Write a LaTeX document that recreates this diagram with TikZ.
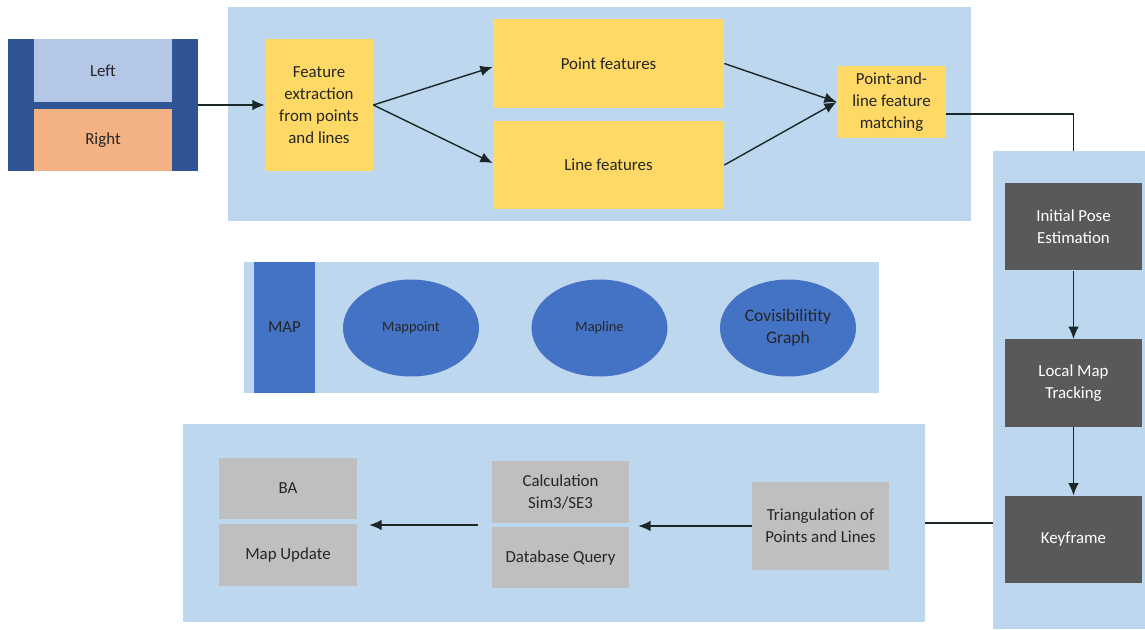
\documentclass[tikz,border=0pt]{standalone}
\usepackage{fontspec}
\setmainfont{Carlito}
\usepackage{xcolor}
\usetikzlibrary{calc,shapes,arrows.meta}

\definecolor{bgblue}{HTML}{BDD7EE}
\definecolor{featyellow}{HTML}{FFD966}
\definecolor{stereoblue}{HTML}{2F5597}
\definecolor{leftblue}{HTML}{B4C7E7}
\definecolor{rightorange}{HTML}{F4B183}
\definecolor{mapblue}{HTML}{4472C4}
\definecolor{darkgray}{HTML}{595959}
\definecolor{lightgray}{HTML}{BFBFBF}
\definecolor{txt}{HTML}{262626}
\definecolor{arrcol}{HTML}{1B2626}

\begin{document}
\begin{tikzpicture}[x=0.02cm,y=-0.02cm,
    font=\fontsize{9.6}{12.4}\selectfont,
    panel/.style={rectangle,fill=bgblue,inner sep=0pt},
    box/.style={rectangle,inner sep=0pt,align=center,text=txt},
    yellowbox/.style={box,fill=featyellow},
    greybox/.style={box,fill=lightgray},
    darkbox/.style={box,fill=darkgray,text=white,minimum width=2.74cm,minimum height=1.75cm},
    mapnode/.style={ellipse,fill=mapblue,inner sep=0pt,align=center,text=txt,
      minimum width=2.72cm,minimum height=1.94cm},
    arr/.style={-{Latex[length=7pt,width=6pt]},draw=arrcol,line width=0.8pt},
    con/.style={draw=arrcol,line width=0.6pt}]
\useasboundingbox (0,0) rectangle (1145,629);

%pannelli di sfondo
\node[panel,minimum width=14.86cm,minimum height=4.28cm] (topbg) at (599.5,114) {};
\node[panel,minimum width=3.04cm,minimum height=9.56cm] (rightbg) at (1069,390) {};
\node[panel,minimum width=12.7cm,minimum height=2.62cm] (mapbg) at (561.5,327.5) {};
\node[panel,minimum width=14.84cm,minimum height=3.96cm] (bottombg) at (554,523) {};

%camera stereo
\node[rectangle,fill=stereoblue,minimum width=3.8cm,minimum height=2.64cm] (stereo) at (103,105) {};
\node[box,fill=leftblue,minimum width=2.76cm,minimum height=1.26cm] (left) at (103,70.5) {Left};
\node[box,fill=rightorange,minimum width=2.76cm,minimum height=1.24cm] (right) at (103,140) {Right};

%estrazione feature
\node[yellowbox,minimum width=2.16cm,minimum height=2.64cm] (feat) at (319,105) {Feature\\extraction\\from points\\and lines};
\node[yellowbox,minimum width=4.62cm,minimum height=1.78cm] (pf) at (608.5,63.5) {Point features};
\node[yellowbox,minimum width=4.62cm,minimum height=1.76cm] (lf) at (608.5,165) {Line features};
\node[yellowbox,minimum width=2.18cm,minimum height=1.44cm] (match) at (891.5,102) {Point-and-\\line feature\\matching};

%tracking
\node[darkbox] (ipe) at (1073.5,226.5) {Initial Pose\\Estimation};
\node[darkbox] (lmt) at (1073.5,383) {Local Map\\Tracking};
\node[darkbox] (kf) at (1073.5,539.5) {Keyframe};

%mappa
\node[rectangle,fill=mapblue,minimum width=1.22cm,minimum height=2.62cm,text=txt] (map) at (284.5,327.5) {MAP};
\node[mapnode,font=\fontsize{8.2}{10}\selectfont] (mappoint) at (411,328) {Mappoint};
\node[mapnode,font=\fontsize{8.2}{10}\selectfont] (mapline) at (599.5,328) {Mapline};
\node[mapnode,font=\fontsize{10}{12.4}\selectfont] (covis) at (788,328) {Covisibilitity\\Graph};

%local mapping
\node[greybox,minimum width=2.76cm,minimum height=1.22cm] (ba) at (288,488.5) {BA};
\node[greybox,minimum width=2.76cm,minimum height=1.24cm] (mu) at (288,555) {Map Update};
\node[greybox,minimum width=2.74cm,minimum height=1.24cm] (calcsim) at (560.5,492) {Calculation\\Sim3/SE3};
\node[greybox,minimum width=2.74cm,minimum height=1.22cm] (dbq) at (560.5,557.5) {Database Query};
\node[greybox,minimum width=2.74cm,minimum height=1.76cm] (tri) at (820.5,526) {Triangulation of\\Points and Lines};

%collegamenti
\coordinate (lmout) at ($(calcsim.south west)!.5!(dbq.north west)$);
\draw[arr] (stereo.east) -- (feat.west);
\draw[arr] (feat.east) -- ([yshift=-0.07cm]pf.west);
\draw[arr] (feat.east) -- ([yshift=0.04cm]lf.west);
\draw[arr] (pf.east) -- (match.west);
\draw[arr] (lf.east) -- (match.west);
\draw[con] ([yshift=-0.24cm]match.east) -| (ipe.north |- rightbg.north);
\draw[arr] (ipe) -- (lmt);
\draw[arr] (lmt) -- (kf);
\draw[con] (bottombg.east) -- (bottombg.east -| rightbg.west);
\draw[arr,shorten >=0.18cm] (tri.west) -- (tri.west -| dbq.east);
\draw[arr,shorten <=0.28cm,shorten >=0.24cm] (lmout) -- (lmout -| ba.east);
\end{tikzpicture}
\end{document}
